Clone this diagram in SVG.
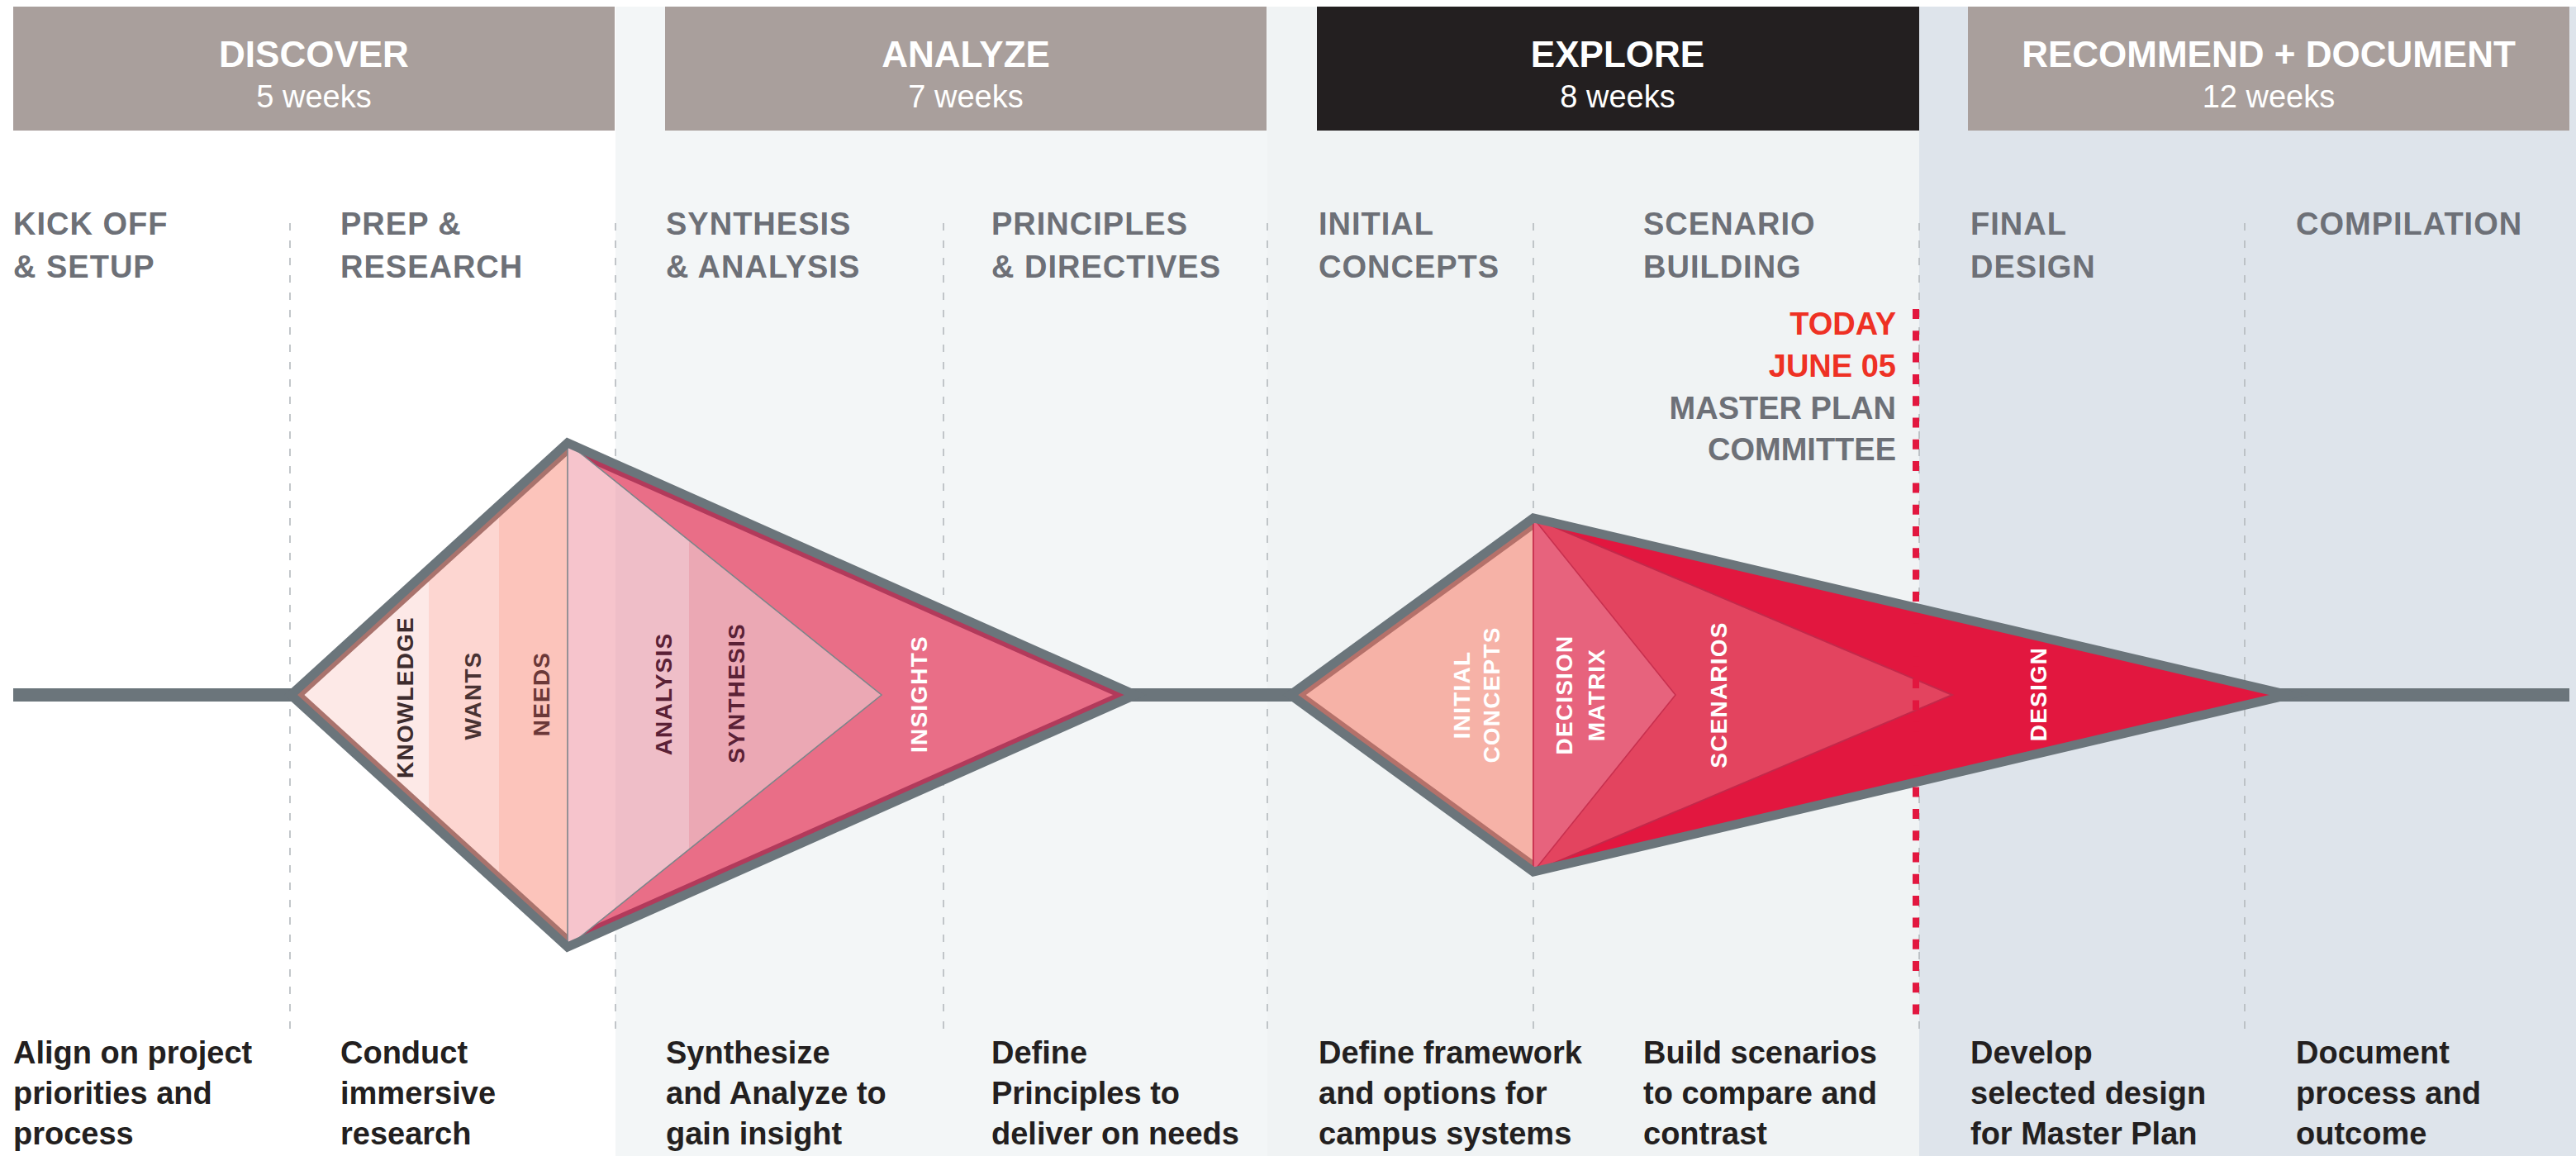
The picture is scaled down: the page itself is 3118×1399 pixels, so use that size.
<svg xmlns="http://www.w3.org/2000/svg" width="3118" height="1399" viewBox="0 0 3118 1399">
<style>
text{font-family:"Liberation Sans",Arial,sans-serif}
.ttl{font-size:44px;font-weight:700;fill:#fff;text-anchor:middle}
.wk{font-size:38px;font-weight:400;fill:#fff;text-anchor:middle}
.sub{font-size:38px;font-weight:700;fill:#6d7077;letter-spacing:1px}
.desc{font-size:38px;font-weight:700;fill:#231f20}
.dash{stroke:#b4b9bd;stroke-width:1.6;stroke-dasharray:9 12;fill:none}
.vl{font-size:28px;font-weight:700;letter-spacing:1.2px;text-anchor:middle}
.outline{fill:none;stroke:#6b757b;stroke-width:11;stroke-linejoin:miter;stroke-miterlimit:10}
</style>
<defs>
<clipPath id="k1"><polygon points="352,841 687,536 1374,841 687,1146"/></clipPath>
<clipPath id="t1"><polygon points="687,536 1067,841 687,1146"/></clipPath>
<clipPath id="k2"><polygon points="1562,841 1856,627 2770,841 1856,1055"/></clipPath>
</defs>
<rect width="3118" height="1399" fill="#fff"/>
<g id="backgrounds">
<rect x="745" y="8" width="789" height="1391" fill="#f3f6f7"/>
<rect x="1534" y="8" width="789" height="1391" fill="#f0f3f4"/>
<rect x="2323" y="8" width="795" height="1391" fill="#dee4eb"/>
</g>
<g id="phase-discover">
<rect x="16" y="8" width="728" height="150" fill="#a99f9c"/>
<text class="ttl" x="380" y="81">DISCOVER</text>
<text class="wk" x="380" y="130">5 weeks</text>
</g>
<g id="phase-analyze">
<rect x="805" y="8" width="728" height="150" fill="#a99f9c"/>
<text class="ttl" x="1169" y="81">ANALYZE</text>
<text class="wk" x="1169" y="130">7 weeks</text>
</g>
<g id="phase-explore">
<rect x="1594" y="8" width="729" height="150" fill="#231f20"/>
<text class="ttl" x="1958" y="81">EXPLORE</text>
<text class="wk" x="1958" y="130">8 weeks</text>
</g>
<g id="phase-recommend">
<rect x="2382" y="8" width="728" height="150" fill="#a99f9c"/>
<text class="ttl" x="2746" y="81">RECOMMEND + DOCUMENT</text>
<text class="wk" x="2746" y="130">12 weeks</text>
</g>
<g id="dividers">
<line class="dash" x1="351" y1="270" x2="351" y2="1256"/>
<line class="dash" x1="745" y1="270" x2="745" y2="1256"/>
<line class="dash" x1="1142" y1="270" x2="1142" y2="1256"/>
<line class="dash" x1="1534" y1="270" x2="1534" y2="1256"/>
<line class="dash" x1="1856" y1="270" x2="1856" y2="1256"/>
<line class="dash" x1="2323" y1="270" x2="2323" y2="1256"/>
<line class="dash" x1="2717" y1="270" x2="2717" y2="1256"/>
</g>
<g id="steps">
<text class="sub" x="16" y="284">KICK OFF</text><text class="sub" x="16" y="336">&amp; SETUP</text>
<text class="sub" x="412" y="284">PREP &amp;</text><text class="sub" x="412" y="336">RESEARCH</text>
<text class="sub" x="806" y="284">SYNTHESIS</text><text class="sub" x="806" y="336">&amp; ANALYSIS</text>
<text class="sub" x="1200" y="284">PRINCIPLES</text><text class="sub" x="1200" y="336">&amp; DIRECTIVES</text>
<text class="sub" x="1596" y="284">INITIAL</text><text class="sub" x="1596" y="336">CONCEPTS</text>
<text class="sub" x="1989" y="284">SCENARIO</text><text class="sub" x="1989" y="336">BUILDING</text>
<text class="sub" x="2385" y="284">FINAL</text><text class="sub" x="2385" y="336">DESIGN</text>
<text class="sub" x="2779" y="284">COMPILATION</text>
</g>
<g id="connectors">
<line x1="16" y1="841" x2="3110" y2="841" stroke="#6b757b" stroke-width="16"/>
</g>
<g id="diamond-discover-analyze">
<g clip-path="url(#k1)">
<rect x="340" y="520" width="179" height="640" fill="#fde9e7"/>
<rect x="519" y="520" width="85" height="640" fill="#fdd6d1"/>
<rect x="604" y="520" width="83" height="640" fill="#fcc4bb"/>
<polygon points="687,536 1374,841 687,1146" fill="#e96e87"/>
<polyline points="687,536 1374,841 687,1146" fill="none" stroke="#b23a5b" stroke-width="22"/>
<polyline points="687,536 352,841 687,1146" fill="none" stroke="#a9736d" stroke-width="22"/>
<g clip-path="url(#t1)">
<rect x="687" y="530" width="58" height="630" fill="#f6c4cc"/>
<rect x="745" y="530" width="89" height="630" fill="#efbec8"/>
<rect x="834" y="530" width="240" height="630" fill="#eba8b4"/>
</g>
<polygon points="687,536 1067,841 687,1146" fill="none" stroke="#7d858a" stroke-width="1.6"/>
</g>
<polygon class="outline" points="352,841 687,536 1374,841 687,1146"/>
<text class="vl" fill="#3d2c2e" transform="translate(500,844) rotate(-90)">KNOWLEDGE</text>
<text class="vl" fill="#4a3333" transform="translate(582,842) rotate(-90)">WANTS</text>
<text class="vl" fill="#6b3838" transform="translate(665,840) rotate(-90)">NEEDS</text>
<text class="vl" fill="#5a2136" transform="translate(813,840) rotate(-90)">ANALYSIS</text>
<text class="vl" fill="#5a2136" transform="translate(901,839) rotate(-90)">SYNTHESIS</text>
<text class="vl" fill="#fff" transform="translate(1122,840) rotate(-90)">INSIGHTS</text>
</g>
<g id="diamond-explore">
<g clip-path="url(#k2)">
<polygon points="1550,841 1856,610 1856,1072" fill="#f6b2a7"/>
<polygon points="1856,627 2770,841 1856,1055" fill="#e2173f"/>
<polyline points="1856,627 1562,841 1856,1055" fill="none" stroke="#b5716a" stroke-width="22"/>
<polygon points="1856,627 2363,841 1856,1055" fill="#e3445f" stroke="#c4284a" stroke-width="2"/>
<polygon points="1856,627 2028,841 1856,1055" fill="#e7637d" stroke="#c8304f" stroke-width="1.6"/>
</g>
<polygon class="outline" points="1562,841 1856,627 2770,841 1856,1055"/>
<text class="vl" fill="#fff" transform="translate(1779,841) rotate(-90)">INITIAL</text>
<text class="vl" fill="#fff" transform="translate(1815,841) rotate(-90)">CONCEPTS</text>
<text class="vl" fill="#fff" transform="translate(1903,841) rotate(-90)">DECISION</text>
<text class="vl" fill="#fff" transform="translate(1942,841) rotate(-90)">MATRIX</text>
<text class="vl" fill="#fff" transform="translate(2090,841) rotate(-90)">SCENARIOS</text>
<text class="vl" fill="#fff" transform="translate(2477,840) rotate(-90)">DESIGN</text>
</g>
<g id="today-marker">
<line x1="2319" y1="374" x2="2319" y2="1229" stroke="#e2173f" stroke-width="8" stroke-dasharray="12 14.3"/>
<text class="sub" x="2295" y="405" text-anchor="end" style="fill:#ee3124;letter-spacing:0">TODAY</text>
<text class="sub" x="2295" y="456" text-anchor="end" style="fill:#ee3124;letter-spacing:0">JUNE 05</text>
<text class="sub" x="2295" y="507" text-anchor="end" style="letter-spacing:0">MASTER PLAN</text>
<text class="sub" x="2295" y="557" text-anchor="end" style="letter-spacing:0">COMMITTEE</text>
</g>
<g id="descriptions">
<text class="desc" x="16" y="1287">Align on project</text><text class="desc" x="16" y="1336">priorities and</text><text class="desc" x="16" y="1385">process</text>
<text class="desc" x="412" y="1287">Conduct</text><text class="desc" x="412" y="1336">immersive</text><text class="desc" x="412" y="1385">research</text>
<text class="desc" x="806" y="1287">Synthesize</text><text class="desc" x="806" y="1336">and Analyze to</text><text class="desc" x="806" y="1385">gain insight</text>
<text class="desc" x="1200" y="1287">Define</text><text class="desc" x="1200" y="1336">Principles to</text><text class="desc" x="1200" y="1385">deliver on needs</text>
<text class="desc" x="1596" y="1287">Define framework</text><text class="desc" x="1596" y="1336">and options for</text><text class="desc" x="1596" y="1385">campus systems</text>
<text class="desc" x="1989" y="1287">Build scenarios</text><text class="desc" x="1989" y="1336">to compare and</text><text class="desc" x="1989" y="1385">contrast</text>
<text class="desc" x="2385" y="1287">Develop</text><text class="desc" x="2385" y="1336">selected design</text><text class="desc" x="2385" y="1385">for Master Plan</text>
<text class="desc" x="2779" y="1287">Document</text><text class="desc" x="2779" y="1336">process and</text><text class="desc" x="2779" y="1385">outcome</text>
</g>
</svg>
